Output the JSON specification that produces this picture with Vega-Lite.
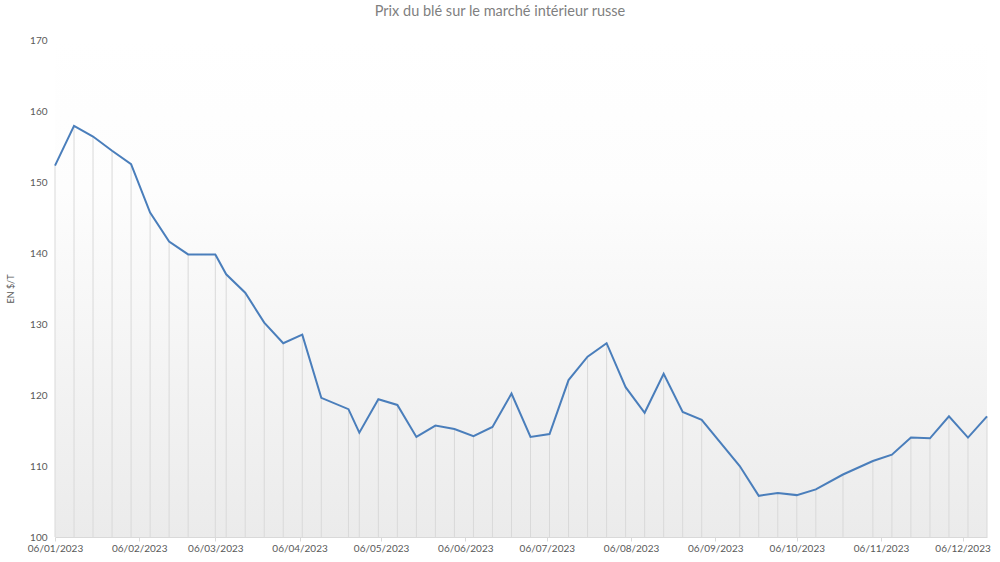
{
  "$schema": "https://vega.github.io/schema/vega-lite/v6.json",
  "width": 932,
  "height": 497,
  "autosize": "none",
  "padding": {"left": 55, "top": 40, "right": 13, "bottom": 25},
  "background": "white",
  "title": {
    "text": "Prix du blé sur le marché intérieur  russe",
    "font": "Lato",
    "fontSize": 14.5,
    "fontWeight": "normal",
    "color": "#7f7f7f",
    "anchor": "middle",
    "dx": -21,
    "offset": 16
  },
  "data": {
    "values": [
      {"date": "2023-01-06T00:00", "prix": 152.3},
      {"date": "2023-01-13T00:00", "prix": 157.9},
      {"date": "2023-01-20T00:00", "prix": 156.4},
      {"date": "2023-01-27T00:00", "prix": 154.4},
      {"date": "2023-02-03T00:00", "prix": 152.5},
      {"date": "2023-02-10T00:00", "prix": 145.7},
      {"date": "2023-02-17T00:00", "prix": 141.6},
      {"date": "2023-02-24T00:00", "prix": 139.8},
      {"date": "2023-03-06T00:00", "prix": 139.8},
      {"date": "2023-03-10T00:00", "prix": 137.0},
      {"date": "2023-03-17T00:00", "prix": 134.4},
      {"date": "2023-03-24T00:00", "prix": 130.2},
      {"date": "2023-03-31T00:00", "prix": 127.3},
      {"date": "2023-04-07T00:00", "prix": 128.5},
      {"date": "2023-04-14T00:00", "prix": 119.6},
      {"date": "2023-04-24T00:00", "prix": 118.0},
      {"date": "2023-04-28T00:00", "prix": 114.7},
      {"date": "2023-05-05T00:00", "prix": 119.4},
      {"date": "2023-05-12T00:00", "prix": 118.6},
      {"date": "2023-05-19T00:00", "prix": 114.1},
      {"date": "2023-05-26T00:00", "prix": 115.7},
      {"date": "2023-06-02T00:00", "prix": 115.2},
      {"date": "2023-06-09T00:00", "prix": 114.2},
      {"date": "2023-06-16T00:00", "prix": 115.5},
      {"date": "2023-06-23T00:00", "prix": 120.2},
      {"date": "2023-06-30T00:00", "prix": 114.1},
      {"date": "2023-07-07T00:00", "prix": 114.5},
      {"date": "2023-07-14T00:00", "prix": 122.1},
      {"date": "2023-07-21T00:00", "prix": 125.4},
      {"date": "2023-07-28T00:00", "prix": 127.3},
      {"date": "2023-08-04T00:00", "prix": 121.1},
      {"date": "2023-08-11T00:00", "prix": 117.5},
      {"date": "2023-08-18T00:00", "prix": 123.0},
      {"date": "2023-08-25T00:00", "prix": 117.6},
      {"date": "2023-09-01T00:00", "prix": 116.5},
      {"date": "2023-09-15T00:00", "prix": 110.0},
      {"date": "2023-09-22T00:00", "prix": 105.8},
      {"date": "2023-09-29T00:00", "prix": 106.2},
      {"date": "2023-10-06T00:00", "prix": 105.9},
      {"date": "2023-10-13T00:00", "prix": 106.7},
      {"date": "2023-10-23T00:00", "prix": 108.8},
      {"date": "2023-11-03T00:00", "prix": 110.7},
      {"date": "2023-11-10T00:00", "prix": 111.6},
      {"date": "2023-11-17T00:00", "prix": 114.0},
      {"date": "2023-11-24T00:00", "prix": 113.9},
      {"date": "2023-12-01T00:00", "prix": 117.0},
      {"date": "2023-12-08T00:00", "prix": 114.0},
      {"date": "2023-12-15T00:00", "prix": 117.0}
    ]
  },
  "encoding": {
    "x": {
      "field": "date",
      "type": "temporal",
      "scale": {
        "domain": [
          {"year": 2023, "month": 1, "date": 6},
          {"year": 2023, "month": 12, "date": 15}
        ]
      },
      "axis": {
        "title": null,
        "format": "%d/%m/%Y",
        "values": [
          {"year": 2023, "month": 1, "date": 6},
          {"year": 2023, "month": 2, "date": 6},
          {"year": 2023, "month": 3, "date": 6},
          {"year": 2023, "month": 4, "date": 6},
          {"year": 2023, "month": 5, "date": 6},
          {"year": 2023, "month": 6, "date": 6},
          {"year": 2023, "month": 7, "date": 6},
          {"year": 2023, "month": 8, "date": 6},
          {"year": 2023, "month": 9, "date": 6},
          {"year": 2023, "month": 10, "date": 6},
          {"year": 2023, "month": 11, "date": 6},
          {"year": 2023, "month": 12, "date": 6}
        ],
        "grid": false,
        "domainColor": "#d9d9d9",
        "tickColor": "#d9d9d9",
        "tickSize": 4,
        "labelPadding": 2,
        "labelOverlap": false,
        "labelFlush": false
      }
    },
    "y": {
      "field": "prix",
      "type": "quantitative",
      "scale": {"domain": [100, 170], "zero": false, "nice": false},
      "axis": {
        "title": "EN $/T",
        "titleFontSize": 9,
        "titleFontWeight": "normal",
        "titleColor": "#595959",
        "titlePadding": 14,
        "values": [100, 110, 120, 130, 140, 150, 160, 170],
        "grid": false,
        "domain": false,
        "ticks": false,
        "labelPadding": 8
      }
    }
  },
  "layer": [
    {
      "mark": {"type": "rule", "color": "#d9d9d9", "strokeWidth": 1},
      "encoding": {
        "y2": {"datum": 100}
      }
    },
    {
      "mark": {"type": "line", "color": "#4a7ebb", "strokeWidth": 2, "strokeJoin": "miter"},
      "encoding": {}
    }
  ],
  "config": {
    "font": "Lato",
    "view": {
      "stroke": null,
      "fill": {
        "gradient": "linear",
        "x1": 0, "y1": 0, "x2": 0, "y2": 1,
        "stops": [
          {"offset": 0, "color": "#ffffff"},
          {"offset": 0.3, "color": "#fdfdfd"},
          {"offset": 1, "color": "#ebebeb"}
        ]
      }
    },
    "axis": {
      "labelFont": "Lato",
      "labelFontSize": 10,
      "labelColor": "#595959",
      "titleFont": "Lato"
    }
  }
}
